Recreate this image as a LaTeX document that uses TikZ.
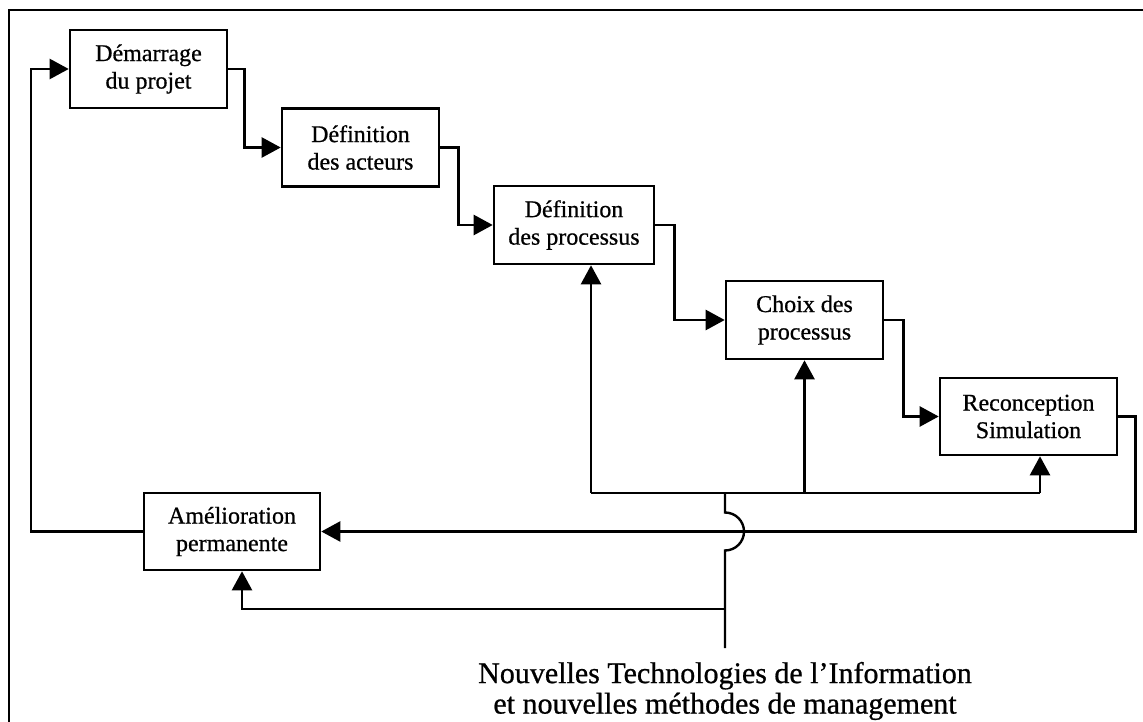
\documentclass[tikz,border=0pt]{standalone}
\usepackage{fontspec}
\setmainfont{Liberation Serif}
\newfontfamily\scanfont{Liberation Serif}[FakeBold=0.7]
\usetikzlibrary{arrows.meta}
\begin{document}
\begin{tikzpicture}[x=1pt,y=-1pt,
  box/.style={draw,line width=2.6pt,inner sep=0pt,align=center,
    font=\scanfont\fontsize{24}{27.5}\selectfont},
  conn/.style={line width=2.4pt},
  arr/.style={conn,-{Triangle[length=19pt,width=20pt]}}]
\useasboundingbox (0,0) rectangle (1143,722);
% frame
\draw[line width=2.6pt] (9,722) -- (9,10) -- (1143,10);
% boxes
\node[box,minimum width=157pt,minimum height=78pt] (dem) at (148.5,69) {Démarrage\\du projet};
\node[box,minimum width=157pt,minimum height=78pt] (act) at (360.5,147.5) {Définition\\des acteurs};
\node[box,minimum width=160pt,minimum height=78pt] (proc) at (574,225) {Définition\\des processus};
\node[box,minimum width=157pt,minimum height=78pt] (choix) at (804.5,320) {Choix des\\processus};
\node[box,minimum width=177pt,minimum height=77pt] (recon) at (1028.5,416.5) {Reconception\\Simulation};
\node[box,minimum width=176pt,minimum height=77pt] (amel) at (232,531.5) {Amélioration\\permanente};
% label
\node[align=center,inner sep=0pt,font=\scanfont\fontsize{30}{30.5}\selectfont] (nti) at (725,691)
  {Nouvelles Technologies de l’Information\\et nouvelles méthodes de management};
% chain
\draw[arr] (dem.east) -- ++(16,0) |- (act.west);
\draw[arr] (act.east) -- ++(18,0) |- (proc.west);
\draw[arr] (proc.east) -- ++(19,0) |- (choix.west);
\draw[arr] (choix.east) -- ++(19,0) |- (recon.west);
\draw[arr] (recon.east) -- ++(17,0) |- (amel.east);
\draw[arr] (amel.west) -- (31,531.5) |- (dem.west);
% NTIC feed
\coordinate (bot) at (725,648);
\coordinate (j1) at (725,609);
\coordinate (h1) at (591,493);
\coordinate (h2) at (725,493);
\coordinate (h3) at (1040,493);
\draw[conn] (bot) -- (j1) -- (725,550.5) arc[start angle=90,end angle=-90,radius=19] -- (h2);
\draw[arr] (j1) -| ([xshift=10pt]amel.south);
\draw[conn] (h1) -- (h3);
\draw[arr] (h1) -- (h1 |- proc.south);
\draw[arr] (h1 -| choix.south) -- (choix.south);
\draw[arr] (h3) -- (h3 |- recon.south);
\end{tikzpicture}
\end{document}
